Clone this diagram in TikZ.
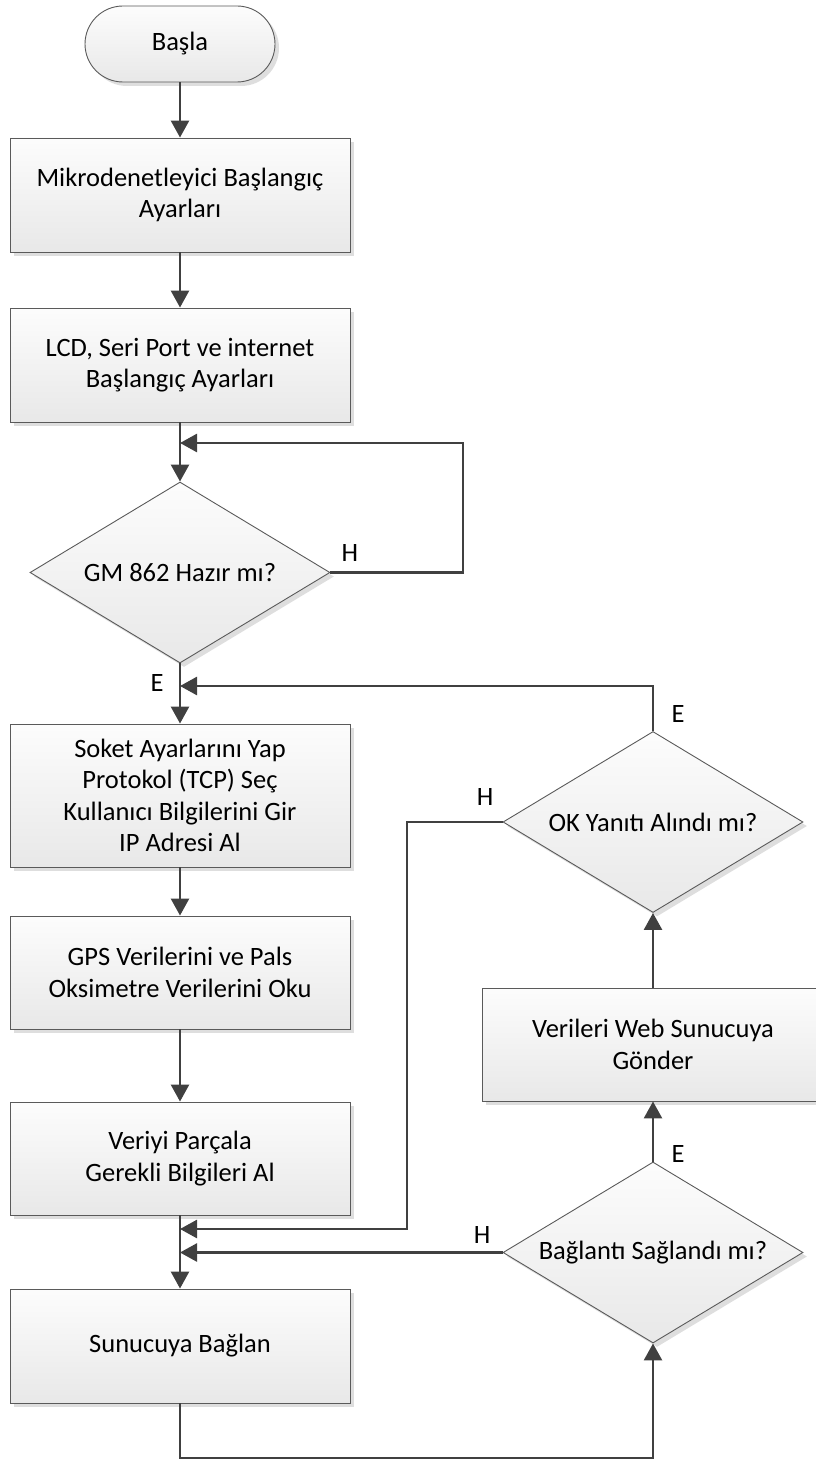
\documentclass[tikz,border=0pt]{standalone}
\usepackage{fontspec}
\setmainfont{Carlito}
\usetikzlibrary{arrows.meta,shapes.geometric,shadows}
\definecolor{linegray}{HTML}{404040}
\definecolor{edgegray}{HTML}{5A5A5A}

\begin{document}
\begin{tikzpicture}[x=1pt,y=-1pt,
  font=\fontsize{26.5}{31.5}\selectfont,
  flowshape/.style={draw=edgegray, line width=0.9pt, top color=black!1, bottom color=black!9,
    drop shadow={shadow xshift=4pt, shadow yshift=-4pt, fill=black!13, opacity=1},
    align=center, inner sep=0pt},
  procbox/.style={flowshape, rectangle, minimum width=340pt},
  decision/.style={flowshape, diamond, shape aspect=1.66, minimum width=300pt, minimum height=181pt},
  term/.style={flowshape, rectangle, rounded corners=38pt, minimum width=190pt, minimum height=76pt},
  flow/.style={draw=linegray, line width=2.7pt, -{Triangle[width=18pt,length=17pt]}},
  lbl/.style={inner sep=0pt, text=black}
]
\useasboundingbox (0,0) rectangle (816,1461);

% main column
\node[term] (start) at (180,44) {Başla};
\node[procbox, minimum height=114pt] (b1) at (180,195) {Mikrodenetleyici Başlangıç\\Ayarları};
\node[procbox, minimum height=114pt] (b2) at (180,365) {LCD, Seri Port ve internet\\Başlangıç Ayarları};
\node[decision] (d1) at (180,572.5) {GM 862 Hazır mı?};
\node[procbox, minimum height=143pt] (b3) at (180,795.5) {Soket Ayarlarını Yap\\Protokol (TCP) Seç\\Kullanıcı Bilgilerini Gir\\IP Adresi Al};
\node[procbox, minimum height=113pt] (b4) at (180,972.5) {GPS Verilerini ve Pals\\Oksimetre Verilerini Oku};
\node[procbox, minimum height=113pt] (b5) at (180,1158.5) {Veriyi Parçala\\Gerekli Bilgileri Al};
\node[procbox, minimum height=114pt] (b6) at (180,1346) {Sunucuya Bağlan};

% right column
\node[decision] (ok) at (653,822) {OK Yanıtı Alındı mı?};
\node[procbox, minimum width=342pt, minimum height=113pt] (web) at (653,1044.5) {Verileri Web Sunucuya\\Gönder};
\node[decision] (conn) at (653,1252.5) {Bağlantı Sağlandı mı?};

% junctions and bends
\coordinate (j1) at (180,443);
\coordinate (loopR) at (463,443);
\coordinate (j2) at (180,686);
\coordinate (hx) at (407,1229);
\coordinate (j3) at (180,1229);
\coordinate (j4) at (180,1252.5);
\coordinate (bot) at (653,1458);

% connectors
\draw[flow] (start) -- (b1);
\draw[flow] (b1) -- (b2);
\draw[flow] (b2) -- (d1);
\draw[flow] (d1.east) -| (loopR) -- (j1);
\draw[flow] (d1) -- (b3);
\draw[flow] (ok.north) |- (j2);
\draw[flow] (b3) -- (b4);
\draw[flow] (b4) -- (b5);
\draw[flow] (b5) -- (b6);
\draw[flow] (ok.west) -| (hx) -- (j3);
\draw[flow] (conn.west) -- (j4);
\draw[flow] (b6.south) |- (bot) -- (conn.south);
\draw[flow] (conn) -- (web);
\draw[flow] (web) -- (ok);

% branch labels
\node[lbl] (h1) at (350,553) {H};
\node[lbl] (e1) at (157,683) {E};
\node[lbl] (e2) at (678,714) {E};
\node[lbl] (h2) at (485,797) {H};
\node[lbl] (e3) at (678,1154) {E};
\node[lbl] (h3) at (482,1235) {H};
\end{tikzpicture}
\end{document}
